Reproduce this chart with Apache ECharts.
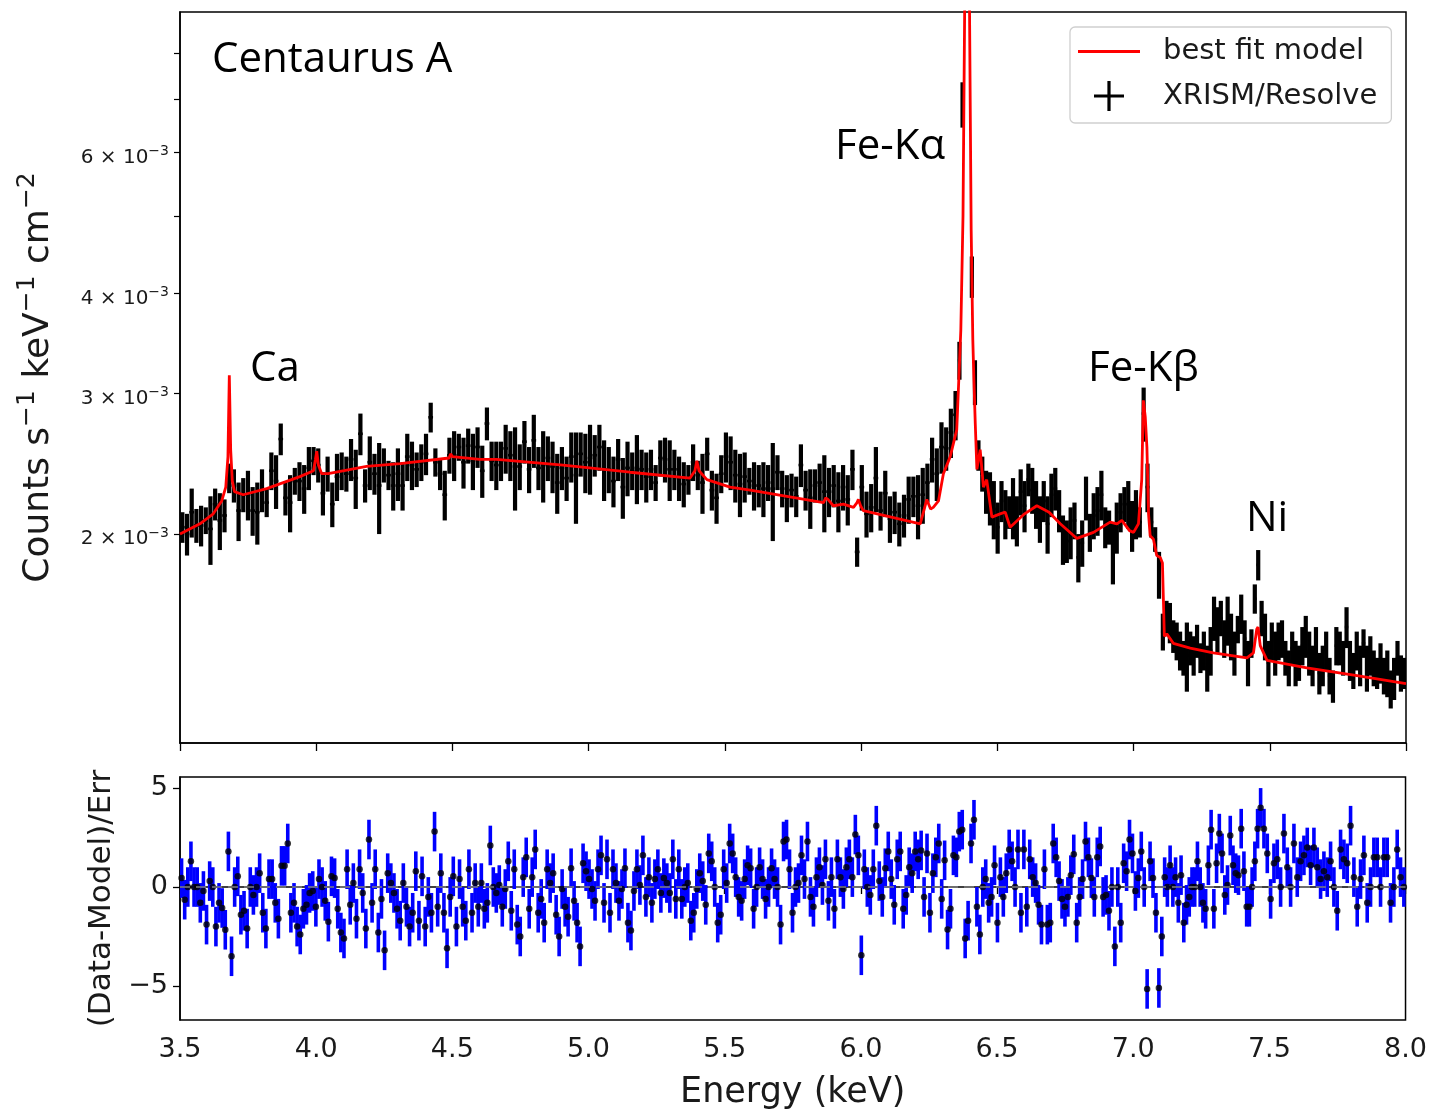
<!DOCTYPE html>
<html><head><meta charset="utf-8">
<script src="https://cdn.jsdelivr.net/npm/echarts@6/dist/echarts.min.js"></script>
<style>html,body{margin:0;padding:0;background:#fff}#c{width:1430px;height:1112px}</style>
</head><body><div id="c"></div>
<script>
// ---- DATA (flux in units of 1e-5 counts s^-1 keV^-1 cm^-2) ----
// spectrum bin segments (keV): edges of the four grouping segments
const segEdges = [3.5, 6.3552, 6.4236, 7.1146, 8.0];

const fluxA = [204,200,213,205,205,208,203,218,208,211,235,230,214,224,224,214,213,227,219,240,
233,263,222,219,233,233,228,242,247,244,225,238,218,236,240,238,248,235,267,230,
246,238,230,244,237,230,238,230,250,244,241,246,252,280,246,238,224,251,251,257,
246,258,
247,257,240,275,247,244,247,256,251,243,243,261,241,262,242,244,249,243,232,242,
235,250,237,252,246,249,251,257,241,241,233,248,229,242,240,242,241,236,241,232,
249,248,241,241,235,231,234,246,237,232,252,227,222,238,250,
246,237,231,236,233,230,230,228,232,228,239,228,222,227,223,244,227,222,230,232,
226,226,230,220,229,221,241,190,229,212,216,235,214,225,209,213,206,211,221,223,
217,224,232,248,238,257,256,268,282];
const errA = [9,12,15,10,12,8,20,10,17,10,10,11,18,11,16,15,19,14,9,13,
18,12,11,18,9,13,16,15,10,12,14,12,14,16,13,12,15,20,16,11,
19,14,30,12,10,16,18,16,17,17,12,13,15,12,10,11,16,13,18,10,
18,13,
20,15,18,13,14,17,14,18,18,29,16,16,16,20,15,25,16,18,20,15,
15,18,31,16,21,25,15,17,21,16,17,15,20,19,13,24,14,17,14,12,
13,16,21,14,15,15,10,13,10,20,12,13,16,13,18,
19,18,21,17,9,16,14,18,12,32,12,12,15,11,13,15,13,19,11,13,
25,16,14,19,15,16,14,8,15,14,15,22,12,15,14,13,13,13,15,13,
20,18,13,16,18,19,16,19,20];

const fluxFe = [330,690,1500,1200,420,310];
const errFe = [18,45,80,70,25,20];

const fluxB = [251,238,226,222,215,204,220,212,213,216,208,226,217,234,227,218,209,220,206,224,
228,214,197,196,201,208,187,195,222,201,211,214,224,204,204,190,204,213,218,218,
205,212,207,283,229,207,197,178,151];
const errB = [11,12,14,17,18,15,13,15,10,19,15,15,16,11,15,15,14,13,17,14,
14,13,14,12,15,11,13,13,14,11,14,15,16,12,10,17,15,12,11,15,
15,15,9,22,16,9,7,12,8];

const fluxC = [157,155,149,147,143,140,141,144,141,147,140,143,136,143,157,152,157,148,156,149,
142,152,159,148,138,146,166,183,157,149,138,147,142,147,148,140,136,144,138,138,
145,149,142,137,144,134,137,143,133,129,145,144,140,153,139,135,143,137,146,136,
141,136,134,138,133,134,128,132,140,134,134];
const errC = [8,9,7,8,8,7,14,7,8,7,6,8,9,10,10,10,8,8,11,10,
9,6,9,8,9,6,7,8,8,10,9,8,9,8,8,7,7,7,9,7,
8,9,9,8,9,8,8,8,7,6,8,7,7,9,8,7,8,8,6,9,
8,7,6,8,7,9,7,8,7,7,6];

// residuals (Data-Model)/Err; residual point segments (keV)
const resEdges = [3.5, 4.601, 6.216, 7.1105, 7.4618, 8.0];
const res1 = [0.45,-0.64,0,1.3,0,0,-0.8,-0.2,-1.9,0.3,0,-2,-0.8,-1.06,-2.16,1.8,-3.5,0,0.54,-1.4,
-1.2,-2.1,0,-0.4,0,0.7,-1.3,-2.1,0.4,0.4,-0.8,-1.6,1.07,1.07,2.2,-1.3,-0.8,-2,-2.4,-1.1,
-0.9,-0.3,-0.2,-1,0.4,0,-0.7,-1.75,0.54,0.45,-1.1,-2.3,-2.6,0.9,-0.9,0.2,-1.6,0.9,-0.3,-2.1,
2.4,-0.8,0.9,-2.3,-0.6,-3.2,0.7,0.2,-0.3,-1.1,-1.7,0.2,-1,-2,-1.3,0.8,-1.7,0.54,-2,-0.5,
-1.3,2.8,-1,0.7,-1.3,-3.1,-0.5,0.54,-2,0.4,-1,-1.7,0.9,-1.3,0.2,-1];
const res2 = [0.2,-1.1,-0.8,2.1,0,-0.3,0.1,-1,-0.1,1.3,-1.2,0.9,-1.9,-2.5,0.5,1.5,-1.1,0.5,1.9,-1.3,
-0.6,-1.8,0.9,0.2,0.7,-1.4,-2.5,-0.1,-1,-1.5,0.95,-0.7,-1.8,-3,1.2,0.8,0.4,-0.1,-0.7,0.9,
1.6,-0.8,1.4,-1.3,0.9,0.2,-0.7,-0.1,0.95,-1.8,-2.2,-0.2,0.9,0.1,1.6,-0.5,0.5,-0.8,0.4,0.9,
-0.3,0.45,0.2,-0.3,1.4,-0.6,0.9,-0.6,0,0.2,-1.7,-1.3,-0.1,0.7,0.3,-0.9,1.7,1.3,0,-1.8,
-1.4,0.9,0.2,2.2,1.7,0.5,-0.5,-0.7,0.4,1.1,0.95,-1.1,0,1,0.4,-0.6,0,0.95,0.4,0,
-1.9,2.3,2.4,0.9,-1.3,0,0.2,1.6,0.4,2.3,-0.5,-1,0.5,1,0.1,1.4,-0.7,0.5,-1.1,1.4,
0.5,-0.1,1,1.4,0.5,2.65,1.6,-3.45,0.9,0,-0.4,0.9,3.1,0.3,-0.5,0.95,1.8,0.4,-0.9,1.4,
1.8,-1.1,-0.4,1,0.7,1.8,1.4];
const res3 = [1.85,-0.5,1.7,-1.3,0.7,1.5,2.2,-0.6,1.35,-2.15,-1.1,1.6,1.5,2.8,2.9,-2.6,-1.7,2.2,3.4,
-1,-2.4,0,0.4,-0.8,-0.5,1.1,-1.8,0.5,-0.5,0.7,1.9,1.3,0,1.9,-1.3,1.9,-1,1.4,0.5,
0.2,-0.9,-1.9,0.9,-1.9,-1.8,2.2,1.5,0.3,-0.6,-1,-0.5,0.6,1.65,-1.8,-0.5,0.4,2.3,1.5,0.45,
-0.5,1.5,2.05,-0.5,-0.4,-1.2,0,-3.0,0,-1.8,1.2,0.8,2.4,1.7,-0.2,0.45,1.8,0,-5.15,1.3,
0.45,-1.3,-5.1,-2.5];
const res4 = [0.5,0,1.1,0,0.5,-0.8,0.6,-1.8,-0.9,-0.5,0,0,1.3,0,-0.8,-1.1,1.1,2.9,-1.1,1.2,
2.7,1.7,-0.4,0.1,2.6,1.1,0.7,0.6,2.95,0.8,-1,-1,0,1.3,2.95];
const res5 = [4.0,2.95,1.7,-0.6,1.2,1.4,0,2.7,1,0,2.2,0.5,1.3,1.6,2.0,1.1,2.0,1.0,0.4,0.8,
0.5,1.3,0,-1.2,1.9,1.4,1.2,3.1,0.5,-1,0.4,1.6,-0.8,0,1.5,1.5,0,1.5,1.5,-0.8,
0,1.9,0.5,0];
const resErr = 1;

// best-fit model curve
const modelE = [3.500,3.573,3.622,3.653,3.668,3.676,3.681,3.686,3.692,3.700,3.732,3.818,3.940,3.990,3.997,4.002,4.008,4.020,4.044,4.185,
4.308,4.488,4.493,4.500,4.600,4.662,4.906,5.152,5.372,5.390,5.397,5.405,5.434,5.519,5.593,5.862,5.870,5.878,5.898,5.935,
5.972,5.985,5.990,5.998,6.008,6.217,6.232,6.241,6.255,6.265,6.284,6.302,6.327,6.351,6.357,6.366,6.374,6.380,6.385,6.389,
6.393,6.398,6.404,6.410,6.414,6.419,6.425,6.437,6.449,6.461,6.480,6.510,6.529,6.547,6.600,6.645,6.690,6.731,6.792,6.853,
6.914,6.939,6.957,6.985,7.000,7.018,7.030,7.036,7.043,7.049,7.055,7.061,7.073,7.085,7.098,7.106,7.113,7.122,7.146,7.208,
7.293,7.416,7.440,7.452,7.457,7.465,7.490,7.636,7.820,8.000];
const modelF = [200,206,212,220,229,250,316,255,233,226,224,228,236,240,248,254,244,238,238,243,
245,249,252,250,248,248,244,239,235,240,247,240,234,229,227,219,222,221,217,218,
216,219,221,217,214,206,215,221,215,216,220,238,250,270,303,360,500,900,1600,2000,
1600,900,480,350,312,275,241,255,229,234,210,212,213,204,212,217,213,206,197.5,201,
207,206,208,202,201,206,234,294,280,257,212,199,197,188,187,184,149,150,146,144,
142,140,142,152,153,145,139,136,133,130];

// axis ticks
const yTickVals = [2,3,4,5,6,7,8];     // x 1e-3
const yLabelVals = [2,3,4,6];          // x 1e-3
const yRange = [1.0955e-3, 9.0e-3];
const resTicks = [-5,0,5];
const resRange = [-6.72, 5.56];

// ---- build series data ----
const fluxSegs = [fluxA, fluxFe, fluxB, fluxC];
const errSegs = [errA, errFe, errB, errC];
const resSegs = [res1, res2, res3, res4, res5];
const dataPts = [], resPts = [];
for (let s = 0; s < fluxSegs.length; s++) {
  const n = fluxSegs[s].length;
  const w = (segEdges[s+1] - segEdges[s]) / n;
  for (let k = 0; k < n; k++) {
    const E = segEdges[s] + (k + 0.5) * w;
    const f = fluxSegs[s][k] * 1e-5, e = errSegs[s][k] * 1e-5;
    dataPts.push([E, Math.log10(f), Math.log10(f - e), Math.log10(f + e), w / 2]);
  }
}
for (let s = 0; s < resSegs.length; s++) {
  const n = resSegs[s].length;
  const w = (resEdges[s+1] - resEdges[s]) / n;
  for (let k = 0; k < n; k++) {
    const E = resEdges[s] + (k + 0.5) * w;
    const r = resSegs[s][k];
    resPts.push([E, r, r - resErr, r + resErr]);
  }
}
const modelPts = modelE.map((e, i) => [e, Math.log10(modelF[i] * 1e-5)]);

const TXT = '#1a1a1a';
const FONT = 'DejaVu Sans';
const L10 = v => Math.log10(v);
const ANN = {font: '42px "Open Sans"', fill: '#000', textVerticalAlign: 'middle', verticalAlign: 'middle'};

const chart = echarts.init(document.getElementById('c'), null, {renderer: 'canvas'});
chart.setOption({
  animation: false,
  backgroundColor: '#fff',
  grid: [
    {left: 180, top: 12, width: 1226, height: 731, show: true, borderColor: '#000', borderWidth: 1.5},
    {left: 180, top: 777, width: 1226, height: 243, show: true, borderColor: '#000', borderWidth: 1.5}
  ],
  xAxis: [
    {gridIndex: 0, type: 'value', min: 3.5, max: 8, interval: 0.5,
      axisLine: {show: true, lineStyle: {color: '#000', width: 1.5}},
      axisTick: {show: true, length: 8, lineStyle: {color: '#000', width: 1.3}},
      axisLabel: {show: false}, splitLine: {show: false}},
    {gridIndex: 1, type: 'value', min: 3.5, max: 8, interval: 0.5,
      axisLine: {show: true, lineStyle: {color: '#000', width: 1.5}},
      axisTick: {show: true, length: 7, lineStyle: {color: '#000', width: 1.3}},
      axisLabel: {show: true, fontSize: 27, fontFamily: FONT, color: TXT, margin: 16,
        formatter: v => v.toFixed(1)},
      splitLine: {show: false},
      name: 'Energy (keV)', nameLocation: 'middle', nameGap: 55,
      nameTextStyle: {fontSize: 35, fontFamily: FONT, color: TXT}}
  ],
  yAxis: [
    {gridIndex: 0, type: 'value', min: L10(yRange[0]), max: L10(yRange[1]),
      axisLine: {show: true, lineStyle: {color: '#000', width: 1.5}},
      axisTick: {show: true, length: 6, lineStyle: {color: '#000', width: 1.2},
        customValues: yTickVals.map(v => L10(v * 1e-3))},
      axisLabel: {show: true, margin: 11, customValues: yLabelVals.map(v => L10(v * 1e-3)),
        formatter: v => '{m|' + Math.round(Math.pow(10, v) * 1e3) + ' × 10}{s|\u22123}',
        rich: {m: {fontSize: 20, fontFamily: FONT, color: TXT, padding: [10, 0, 0, 0]},
               s: {fontSize: 14, fontFamily: FONT, color: TXT, padding: [0, 0, 2, 0]}}},
      splitLine: {show: false},
      name: '{t|Counts s}{s|\u22121}{t| keV}{s|\u22121}{t| cm}{s|\u22122}',
      nameLocation: 'middle', nameGap: 118, nameRotate: 90,
      nameTextStyle: {rich: {t: {fontSize: 36, fontFamily: FONT, color: TXT},
                             s: {fontSize: 25, fontFamily: FONT, color: TXT, padding: [0, 0, 22, 0]}}}},
    {gridIndex: 1, type: 'value', min: resRange[0], max: resRange[1],
      axisLine: {show: true, lineStyle: {color: '#000', width: 1.5}},
      axisTick: {show: true, length: 7, lineStyle: {color: '#000', width: 1.3}, customValues: resTicks},
      axisLabel: {show: true, margin: 12, fontSize: 27, fontFamily: FONT, color: TXT, customValues: resTicks,
        formatter: v => v < 0 ? '\u2212' + (-v) : String(v)},
      splitLine: {show: false},
      name: '(Data-Model)/Err', nameLocation: 'middle', nameGap: 62, nameRotate: 90,
      nameTextStyle: {fontSize: 31, fontFamily: FONT, color: TXT}}
  ],
  legend: {
    orient: 'vertical', left: 1070, top: 27,
    padding: [10, 14, 12, 8], itemWidth: 62, itemHeight: 30, itemGap: 15,
    borderColor: '#cfcfcf', borderWidth: 1.3, borderRadius: 5, backgroundColor: '#fff',
    textStyle: {fontSize: 29, fontFamily: FONT, color: TXT, padding: [0, 0, 0, 18]},
    data: [
      {name: 'best fit model', icon: 'path://M0,0h62v3h-62z', itemStyle: {color: '#ff0000'}},
      {name: 'XRISM/Resolve', icon: 'path://M12.5,0h3v28h-3z M0,12.5h28v3h-28z', itemStyle: {color: '#000'}}
    ]
  },
  graphic: [
    {type: 'text', x: 212, y: 60, style: Object.assign({text: 'Centaurus A'}, ANN)},
    {type: 'text', x: 250, y: 369, style: Object.assign({text: 'Ca'}, ANN)},
    {type: 'text', x: 835, y: 147, style: Object.assign({text: 'Fe-Kα'}, ANN)},
    {type: 'text', x: 1088, y: 369, style: Object.assign({text: 'Fe-Kβ'}, ANN)},
    {type: 'text', x: 1246, y: 519, style: Object.assign({text: 'Ni'}, ANN)}
  ],
  series: [
    {name: 'XRISM/Resolve', type: 'custom', xAxisIndex: 0, yAxisIndex: 0, clip: true, z: 2,
      itemStyle: {color: '#000'},
      encode: {x: 0, y: [1, 2, 3]},
      data: dataPts,
      renderItem: (params, api) => {
        const E = api.value(0), y = api.value(1), lo = api.value(2), hi = api.value(3), hw = api.value(4);
        const a = api.coord([E, lo]), b = api.coord([E, hi]);
        const l = api.coord([E - hw, y]), r = api.coord([E + hw, y]);
        return {type: 'group', children: [
          {type: 'line', shape: {x1: a[0], y1: a[1], x2: b[0], y2: b[1]}, style: {stroke: '#000', lineWidth: 4.2}},
          {type: 'line', shape: {x1: l[0], y1: l[1], x2: r[0], y2: r[1]}, style: {stroke: '#000', lineWidth: 2.6}}
        ]};
      }},
    {name: 'best fit model', type: 'line', xAxisIndex: 0, yAxisIndex: 0, data: modelPts, z: 5,
      symbol: 'none', showSymbol: false, clip: true,
      lineStyle: {color: '#ff0000', width: 2.8}, itemStyle: {color: '#ff0000'}},
    {name: 'zero', type: 'line', xAxisIndex: 1, yAxisIndex: 1, data: [], z: 1, silent: true,
      markLine: {silent: true, symbol: 'none', label: {show: false},
        lineStyle: {color: '#7f7f7f', type: [10, 6], width: 1.5},
        data: [{yAxis: 0}]}},
    {name: 'resbars', type: 'custom', xAxisIndex: 1, yAxisIndex: 1, clip: true, z: 3,
      encode: {x: 0, y: [1, 2, 3]},
      data: resPts,
      renderItem: (params, api) => {
        const E = api.value(0);
        const a = api.coord([E, api.value(2)]), b = api.coord([E, api.value(3)]);
        return {type: 'line', shape: {x1: a[0], y1: a[1], x2: b[0], y2: b[1]}, style: {stroke: '#0000ff', lineWidth: 3.6}};
      }},
    {name: 'resdots', type: 'scatter', xAxisIndex: 1, yAxisIndex: 1, z: 4,
      symbol: 'circle', symbolSize: 6.5, itemStyle: {color: '#000'},
      data: resPts.map(p => [p[0], p[1]])}
  ]
});
</script></body></html>
